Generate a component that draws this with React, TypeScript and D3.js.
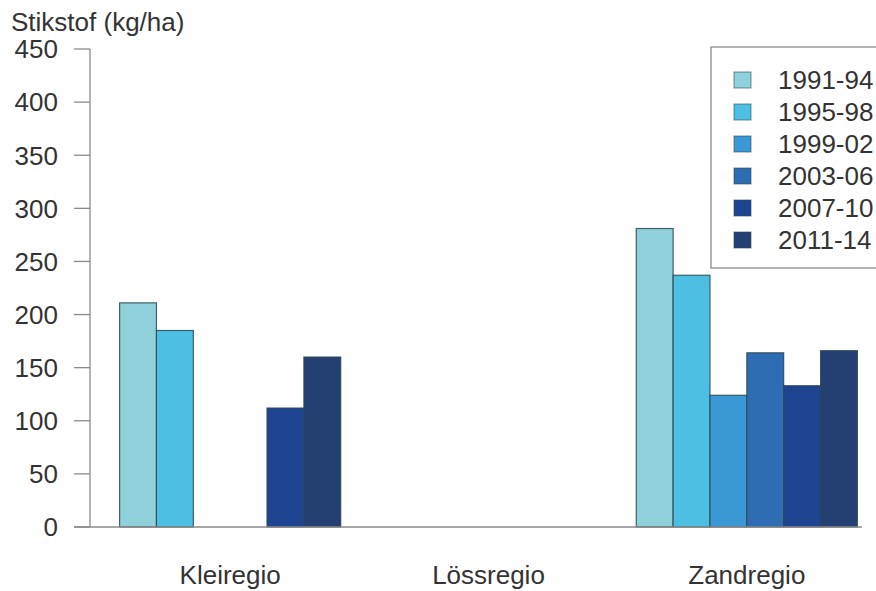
import React from "react";
import * as d3 from "d3";

const categories = ["Kleiregio", "Lössregio", "Zandregio"];
const periods = ["1991-94", "1995-98", "1999-02", "2003-06", "2007-10", "2011-14"];
const s1991_94: (number | null)[] = [211, null, 281];
const s1995_98: (number | null)[] = [185, null, 237];
const s1999_02: (number | null)[] = [null, null, 124];
const s2003_06: (number | null)[] = [null, null, 164];
const s2007_10: (number | null)[] = [112, null, 133];
const s2011_14: (number | null)[] = [160, null, 166];
const yTicks = [0, 50, 100, 150, 200, 250, 300, 350, 400, 450];
const colors = ["#8fd0da", "#4cbfe2", "#3a98d4", "#2e6cb4", "#1f4592", "#243f72"];
const seriesValues = [s1991_94, s1995_98, s1999_02, s2003_06, s2007_10, s2011_14];

const W = 876;
const H = 591;
const FONT = "'Liberation Sans', Arial, Helvetica, sans-serif";

export default function App() {
  const y = d3.scaleLinear().domain([0, 450]).range([527, 49]);
  const x0 = d3
    .scaleBand<string>()
    .domain(categories)
    .range([101, 876])
    .paddingInner(0.144)
    .paddingOuter(0.072);
  const x1 = d3.scaleBand<string>().domain(periods).range([0, x0.bandwidth()]).padding(0);
  const axisX = 90;

  return (
    <svg width={W} height={H} style={{ position: "absolute", left: 0, top: 0, background: "#fff" }}>
      <text x={11} y={31} fontFamily={FONT} fontSize={26} fill="#333">
        Stikstof (kg/ha)
      </text>
      {/* y axis */}
      <line x1={axisX} x2={axisX} y1={y(450)} y2={y(0)} stroke="#8a8a8a" strokeWidth={1.3} />
      {yTicks.map((t) => (
        <g key={t}>
          <line x1={74} x2={axisX} y1={y(t)} y2={y(t)} stroke="#8a8a8a" strokeWidth={1.3} />
          <text
            x={58}
            y={y(t)}
            dy="0.36em"
            textAnchor="end"
            fontFamily={FONT}
            fontSize={26}
            fill="#333"
          >
            {t}
          </text>
        </g>
      ))}
      {/* bars */}
      {categories.map((c, ci) => (
        <g key={c} transform={`translate(${x0(c)},0)`}>
          {periods.map((p, pi) => {
            const v = seriesValues[pi][ci];
            if (v == null) return null;
            return (
              <rect
                key={p}
                x={x1(p)}
                y={y(v)}
                width={x1.bandwidth()}
                height={y(0) - y(v)}
                fill={colors[pi]}
                stroke="#2c4656"
                strokeOpacity={0.85}
                strokeWidth={1.2}
              />
            );
          })}
        </g>
      ))}
      {/* x axis */}
      <line x1={74} x2={862} y1={y(0)} y2={y(0)} stroke="#8a8a8a" strokeWidth={1.3} />
      {categories.map((c) => (
        <text
          key={c}
          x={(x0(c) as number) + x0.bandwidth() / 2}
          y={584}
          textAnchor="middle"
          fontFamily={FONT}
          fontSize={26}
          fill="#333"
        >
          {c}
        </text>
      ))}
      {/* legend */}
      <rect x={711} y={47} width={170} height={221} fill="#fff" stroke="#8a8a8a" strokeWidth={1.3} />
      {periods.map((p, i) => (
        <g key={p} transform={`translate(0,${80 + i * 32})`}>
          <rect x={734} y={-8} width={17} height={16} fill={colors[i]} stroke="#2c4656" strokeOpacity={0.6} strokeWidth={1} />
          <text x={778} y={0} dy="0.36em" fontFamily={FONT} fontSize={26} fill="#333">
            {p}
          </text>
        </g>
      ))}
    </svg>
  );
}
